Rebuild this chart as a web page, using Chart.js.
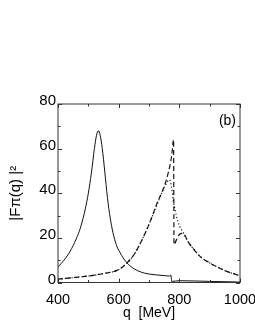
<!DOCTYPE html>
<html>
<head>
<meta charset="utf-8">
<script src="https://cdn.jsdelivr.net/npm/chart.js@4"></script>
<style>
  html, body { margin: 0; padding: 0; background: #fff; }
  #wrap { width: 255px; height: 330px; }
</style>
</head>
<body>
<div id="wrap"><canvas id="formFactorChart"></canvas></div>
<script>
// solid curve
const qSolid = [400, 420, 440, 460, 475, 490, 500, 510, 520, 527, 533, 539, 546, 554, 563, 572, 581, 592, 604, 626, 650, 675, 700, 750, 768, 772, 775, 800, 900, 1000];
const fSolid = [7, 10, 14, 19.5, 25, 33, 40, 49, 60, 66, 68, 66, 60, 50, 38, 29, 22.5, 17, 13.5, 9, 6.2, 4.6, 3.8, 3.1, 2.9, 3.4, 0.5, 0.8, 0.5, 0.2];

// dashed curve
const qDashed = [400, 450, 500, 550, 600, 626, 653, 680, 703, 725, 750, 765, 775, 781, 782.5, 790, 800, 812, 830, 850, 870, 900, 930, 960, 1000];
const fDashed = [1.5, 2.2, 2.9, 4, 5.8, 8.6, 13, 20, 27, 35, 43, 50, 57, 64, 17, 19, 21.5, 22, 18, 14.5, 11.5, 8.8, 6.6, 4.8, 3];

// dotted curve
const qDotted = [400, 450, 500, 550, 600, 626, 653, 680, 703, 725, 745, 760, 768, 774, 780, 790, 800, 812, 830, 850, 870, 900, 930, 960, 1000];
const fDotted = [1.5, 2.2, 2.9, 4, 5.8, 8.6, 13, 20, 27, 34.5, 41, 45, 46, 43, 37, 30, 25.5, 22.5, 18, 14.5, 11.5, 8.8, 6.6, 4.8, 3];

const xMajor = [400, 600, 800, 1000];
const xMinor = [500, 700, 900];
const yMajor = [0, 20, 40, 60, 80];
const yMinor = [10, 30, 50, 70];

const pts = (qs, fs) => qs.map((q, i) => ({x: q, y: fs[i]}));

const font = 'Liberation Sans, Arial, sans-serif';

// inward ticks on all four sides, frame box, panel tag
const frameTicks = {
  id: 'frameTicks',
  afterDraw(chart) {
    const {ctx, chartArea: a, scales: {x, y}} = chart;
    ctx.save();
    ctx.strokeStyle = '#333';
    ctx.lineWidth = 1;
    ctx.strokeRect(a.left, a.top, a.right - a.left, a.bottom - a.top);
    const seg = (x1, y1, x2, y2) => {
      ctx.beginPath(); ctx.moveTo(x1, y1); ctx.lineTo(x2, y2); ctx.stroke();
    };
    const xt = (v, len) => {
      const p = Math.round(x.getPixelForValue(v)) + 0.5;
      seg(p, a.bottom, p, a.bottom - len);
      seg(p, a.top, p, a.top + len);
    };
    const yt = (v, len) => {
      const p = Math.round(y.getPixelForValue(v)) + 0.5;
      seg(a.left, p, a.left + len, p);
      seg(a.right, p, a.right - len, p);
    };
    xMajor.forEach(v => xt(v, 4));
    xMinor.forEach(v => xt(v, 2.5));
    yMajor.forEach(v => yt(v, 4));
    yMinor.forEach(v => yt(v, 2.5));
    ctx.fillStyle = '#000';
    ctx.font = '14px ' + font;
    ctx.textAlign = 'right';
    ctx.textBaseline = 'middle';
    ctx.fillText('(b)', a.right - 4, a.top + 17);
    ctx.restore();
  }
};

const ctx = document.getElementById('formFactorChart').getContext('2d');
const chart = new Chart(ctx, {
  type: 'line',
  data: {
    datasets: [{
      data: pts(qSolid, fSolid),
      borderColor: '#111',
      borderWidth: 1,
      pointRadius: 0,
      cubicInterpolationMode: 'monotone'
    }, {
      data: pts(qDashed, fDashed),
      borderColor: '#111',
      borderWidth: 1.2,
      borderDash: [5, 3],
      pointRadius: 0,
      cubicInterpolationMode: 'monotone'
    }, {
      data: pts(qDotted, fDotted),
      borderColor: '#111',
      borderWidth: 1.2,
      borderDash: [1.2, 2.2],
      pointRadius: 0,
      cubicInterpolationMode: 'monotone'
    }]
  },
  options: {
    responsive: true,
    maintainAspectRatio: false,
    animation: false,
    layout: {
      padding: {top: 104, right: 15, bottom: 0, left: 0}
    },
    plugins: {
      legend: {display: false},
      tooltip: {enabled: false}
    },
    scales: {
      x: {
        type: 'linear',
        min: 400,
        max: 1000,
        grid: {display: false, drawTicks: false},
        border: {display: false},
        ticks: {
          stepSize: 200,
          padding: 9,
          color: '#000',
          font: {family: font, size: 14.5},
          maxRotation: 0,
          callback: (value) => String(value)
        },
        title: {
          display: true,
          text: 'q  [MeV]',
          color: '#000',
          font: {family: font, size: 14},
          padding: {top: 0, bottom: 8}
        },
        afterFit: (s) => {
          s.height = 47.5;
          s.paddingLeft = 0;
          s.paddingRight = 0;
        }
      },
      y: {
        type: 'linear',
        min: 0,
        max: 80,
        grid: {display: false, drawTicks: false},
        border: {display: false},
        ticks: {
          stepSize: 20,
          padding: 2,
          labelOffset: -3,
          color: '#000',
          font: {family: font, size: 15}
        },
        title: {
          display: true,
          text: '|Fπ(q) |²',
          color: '#000',
          font: {family: font, size: 15},
          padding: {top: 7, bottom: 0}
        },
        afterFit: (s) => {
          s.width = 58;
          s.paddingTop = 0;
          s.paddingBottom = 0;
        }
      }
    }
  },
  plugins: [frameTicks]
});
</script>
</body>
</html>
